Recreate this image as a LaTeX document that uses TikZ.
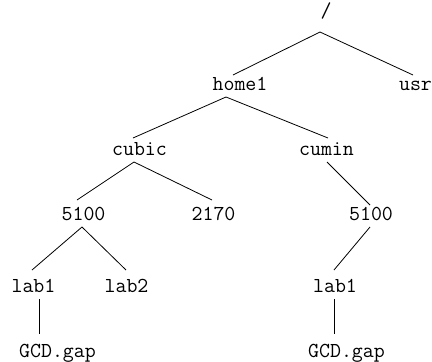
\documentclass[tikz,border=0pt]{standalone}
\usepackage{fontspec}
\usetikzlibrary{calc}
\begin{document}
\begin{tikzpicture}[x=1pt,y=-1pt,
  lbl/.style={anchor=base,inner sep=0pt,font=\ttfamily\fontsize{21.3}{23}\selectfont},
  edge/.style={line width=0.8pt,black}]
\useasboundingbox (0,0) rectangle (432,362);
\node[lbl] (root) at (326,17) {/};
\node[lbl] (home1) at (240,90) {home1};
\node[lbl] (usr) at (415.5,90) {usr};
\node[lbl] (cubic) at (139.5,155) {cubic};
\node[lbl] (cumin) at (326.5,155) {cumin};
\node[lbl] (a5100) at (83.5,220) {5100};
\node[lbl] (n2170) at (213.5,220) {2170};
\node[lbl] (b5100) at (371,220) {5100};
\node[lbl] (alab1) at (33.5,292) {lab1};
\node[lbl] (lab2) at (126.5,292) {lab2};
\node[lbl] (blab1) at (335,292) {lab1};
\node[lbl] (agcd) at (57.5,357) {GCD.gap};
\node[lbl] (bgcd) at (346.5,357) {GCD.gap};
\draw[edge] ($(root.base)+(-6,15)$) -- ($(home1.base)+(-7,-15)$);
\draw[edge] ($(root.base)+(-6,15)$) -- ($(usr.base)+(-2.5,-15)$);
\draw[edge] ($(home1.base)+(-14,7)$) -- ($(cubic.base)+(-6.5,-17)$);
\draw[edge] ($(home1.base)+(-14,7)$) -- ($(cumin.base)+(1.5,-17)$);
\draw[edge] ($(cubic.base)+(-5.5,7)$) -- ($(a5100.base)+(-6.5,-20)$);
\draw[edge] ($(cubic.base)+(-5.5,7)$) -- ($(n2170.base)+(-1.5,-20)$);
\draw[edge] ($(cumin.base)+(0.5,7)$) -- ($(b5100.base)+(-1,-15)$);
\draw[edge] ($(a5100.base)+(-1.5,7)$) -- ($(alab1.base)+(-1.5,-22)$);
\draw[edge] ($(a5100.base)+(-1.5,7)$) -- ($(lab2.base)+(-0.5,-22)$);
\draw[edge] ($(b5100.base)+(-1,7)$) -- ($(blab1.base)+(-1,-22)$);
\draw[edge] ($(alab1.base)+(5.5,7)$) -- ($(agcd.base)+(-18.5,-23)$);
\draw[edge] ($(blab1.base)+(-1,7)$) -- ($(bgcd.base)+(-12.5,-23)$);
\end{tikzpicture}
\end{document}
